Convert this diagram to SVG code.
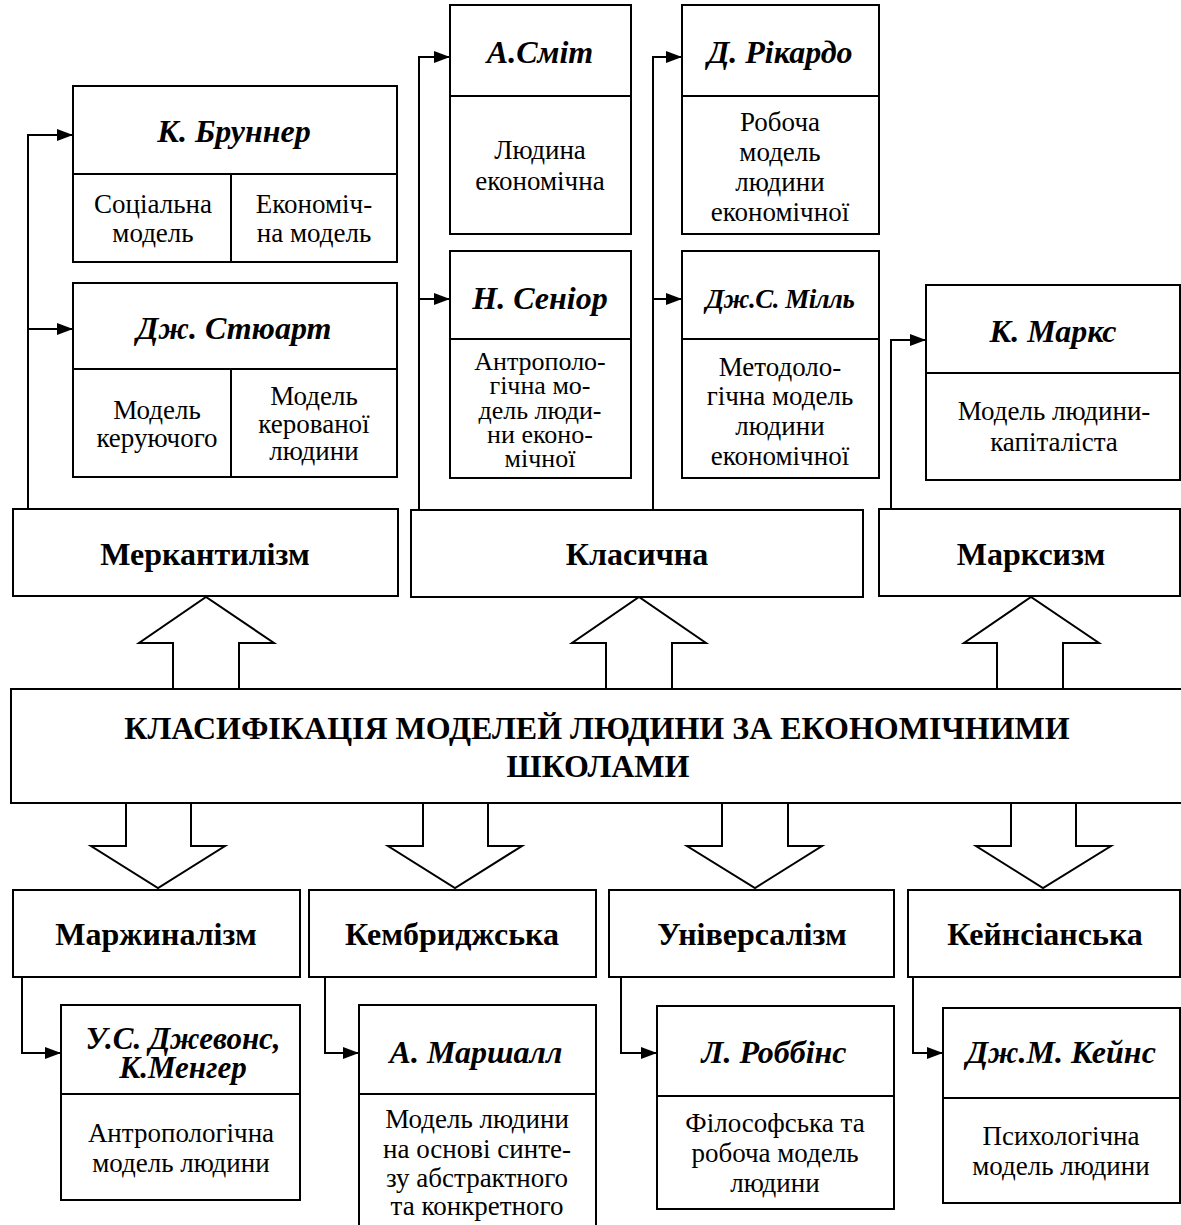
<svg xmlns="http://www.w3.org/2000/svg" width="1181" height="1225" viewBox="0 0 1181 1225">
<style>
  .box { fill: #fff; stroke: #000; stroke-width: 2; }
  .ln { fill: none; stroke: #000; stroke-width: 2; }
  .con { fill: none; stroke: #000; stroke-width: 2; marker-end: url(#ah); }
  .blk { fill: #fff; stroke: #000; stroke-width: 2; stroke-linejoin: miter; }
  text { font-family: "Liberation Serif", "DejaVu Serif", serif; fill: #000; text-anchor: middle; }
  .hdr { font-size: 32px; font-weight: bold; font-style: italic; }
  .hdr2 { font-size: 31px; font-weight: bold; font-style: italic; }
  .hdr3 { font-size: 27px; font-weight: bold; font-style: italic; letter-spacing: -0.5px; }
  .body { font-size: 27px; }
  .tight { font-size: 26px; }
  .cat { font-size: 32px; font-weight: bold; }
  .title { font-size: 32px; font-weight: bold; }
</style>
<defs>
  <marker id="ah" viewBox="0 0 16 12" refX="16" refY="6" markerWidth="16" markerHeight="12" markerUnits="userSpaceOnUse" orient="auto">
    <path d="M0,0 L16,6 L0,12 z" fill="#000"/>
  </marker>
</defs>
<rect width="1181" height="1225" fill="#fff"/>

<g id="connectors">
  <path class="con" d="M28,509 V135 H73"/>
  <path class="con" d="M28,329 H73"/>
  <path class="con" d="M419,510 V57 H450"/>
  <path class="con" d="M419,299 H450"/>
  <path class="con" d="M653,510 V57 H682"/>
  <path class="con" d="M653,299 H682"/>
  <path class="con" d="M891,509 V340 H926"/>
  <path class="con" d="M22,977 V1053 H61"/>
  <path class="con" d="M325,977 V1053 H359"/>
  <path class="con" d="M621,977 V1053 H657"/>
  <path class="con" d="M913,977 V1053 H943"/>
  <path class="blk" d="M173,689 V643 H139 L206,597 L274,643 H239 V689"/>
  <path class="blk" d="M606,689 V643 H572 L639,597 L706,643 H672 V689"/>
  <path class="blk" d="M997,689 V643 H964 L1031,597 L1099,643 H1063 V689"/>
  <path class="blk" d="M126,803 V846 H91 L158,888 L225,846 H191 V803"/>
  <path class="blk" d="M423,803 V846 H388 L455,888 L522,846 H488 V803"/>
  <path class="blk" d="M722,803 V846 H687 L755,888 L822,846 H788 V803"/>
  <path class="blk" d="M1011,803 V846 H976 L1043,888 L1111,846 H1076 V803"/>
</g>

<g id="brunner">
  <rect class="box" x="73" y="86" width="324" height="176"/>
  <line class="ln" x1="73" y1="174" x2="397" y2="174"/>
  <line class="ln" x1="231" y1="174" x2="231" y2="262"/>
  <text class="hdr" x="234" y="142">К. Бруннер</text>
  <text class="body" x="153" y="213">Соціальна</text>
  <text class="body" x="153" y="242">модель</text>
  <text class="body" x="314" y="213">Економіч-</text>
  <text class="body" x="314" y="242">на модель</text>
</g>

<g id="stewart">
  <rect class="box" x="73" y="283" width="324" height="194"/>
  <line class="ln" x1="73" y1="369" x2="397" y2="369"/>
  <line class="ln" x1="231" y1="369" x2="231" y2="477"/>
  <text class="hdr" x="234" y="339">Дж. Стюарт</text>
  <text class="body" x="157" y="419">Модель</text>
  <text class="body" x="157" y="447">керуючого</text>
  <text class="body" x="314" y="405">Модель</text>
  <text class="body" x="314" y="433">керованої</text>
  <text class="body" x="314" y="460">людини</text>
</g>

<g id="smith">
  <rect class="box" x="450" y="5" width="181" height="229"/>
  <line class="ln" x1="450" y1="96" x2="631" y2="96"/>
  <text class="hdr" x="540" y="63">А.Сміт</text>
  <text class="body" x="540" y="159">Людина</text>
  <text class="body" x="540" y="190">економічна</text>
</g>

<g id="ricardo">
  <rect class="box" x="682" y="5" width="197" height="229"/>
  <line class="ln" x1="682" y1="96" x2="879" y2="96"/>
  <text class="hdr" x="780" y="63">Д. Рікардо</text>
  <text class="body" x="780" y="131">Робоча</text>
  <text class="body" x="780" y="161">модель</text>
  <text class="body" x="780" y="191">людини</text>
  <text class="body" x="780" y="221">економічної</text>
</g>

<g id="senior">
  <rect class="box" x="450" y="251" width="181" height="227"/>
  <line class="ln" x1="450" y1="339" x2="631" y2="339"/>
  <text class="hdr" x="540" y="309">Н. Сеніор</text>
  <text class="tight" x="540" y="370">Антрополо-</text>
  <text class="tight" x="540" y="394">гічна мо-</text>
  <text class="tight" x="540" y="419">дель люди-</text>
  <text class="tight" x="540" y="443">ни еконо-</text>
  <text class="tight" x="540" y="467">мічної</text>
</g>

<g id="mill">
  <rect class="box" x="682" y="251" width="197" height="227"/>
  <line class="ln" x1="682" y1="339" x2="879" y2="339"/>
  <text class="hdr3" x="780" y="308">Дж.С. Мілль</text>
  <text class="body" x="780" y="376">Методоло-</text>
  <text class="body" x="780" y="405">гічна модель</text>
  <text class="body" x="780" y="435">людини</text>
  <text class="body" x="780" y="465">економічної</text>
</g>

<g id="marx">
  <rect class="box" x="926" y="285" width="254" height="195"/>
  <line class="ln" x1="926" y1="373" x2="1180" y2="373"/>
  <text class="hdr" x="1053" y="342">К. Маркс</text>
  <text class="body" x="1054" y="420">Модель людини-</text>
  <text class="body" x="1054" y="451">капіталіста</text>
</g>

<g id="mercantilism">
  <rect class="box" x="13" y="509" width="385" height="87"/>
  <text class="cat" x="205" y="565">Меркантилізм</text>
</g>

<g id="classic">
  <rect class="box" x="411" y="510" width="452" height="87"/>
  <text class="cat" x="637" y="565">Класична</text>
</g>

<g id="marxism">
  <rect class="box" x="879" y="509" width="301" height="87"/>
  <text class="cat" x="1031" y="565">Марксизм</text>
</g>

<g id="main">
  <rect class="box" x="11" y="689" width="1185" height="114"/>
  <text class="title" x="597" y="739">КЛАСИФІКАЦІЯ МОДЕЛЕЙ ЛЮДИНИ ЗА ЕКОНОМІЧНИМИ</text>
  <text class="title" x="598" y="777">ШКОЛАМИ</text>
</g>

<g id="marginalism">
  <rect class="box" x="13" y="890" width="287" height="87"/>
  <text class="cat" x="156" y="945">Маржиналізм</text>
</g>

<g id="cambridge">
  <rect class="box" x="309" y="890" width="287" height="87"/>
  <text class="cat" x="452" y="945">Кембриджська</text>
</g>

<g id="universalism">
  <rect class="box" x="609" y="890" width="285" height="87"/>
  <text class="cat" x="752" y="945">Універсалізм</text>
</g>

<g id="keynesian">
  <rect class="box" x="908" y="890" width="272" height="87"/>
  <text class="cat" x="1045" y="945">Кейнсіанська</text>
</g>

<g id="jevons">
  <rect class="box" x="61" y="1005" width="239" height="195"/>
  <line class="ln" x1="61" y1="1094" x2="300" y2="1094"/>
  <text class="hdr2" x="183" y="1049">У.С. Джевонс,</text>
  <text class="hdr2" x="183" y="1078">К.Менгер</text>
  <text class="body" x="181" y="1142">Антропологічна</text>
  <text class="body" x="181" y="1172">модель людини</text>
</g>

<g id="marshall">
  <rect class="box" x="359" y="1005" width="237" height="240"/>
  <line class="ln" x1="359" y1="1094" x2="596" y2="1094"/>
  <text class="hdr" x="476" y="1063">А. Маршалл</text>
  <text class="body" x="477" y="1128">Модель людини</text>
  <text class="body" x="477" y="1158">на основі синте-</text>
  <text class="body" x="477" y="1187">зу абстрактного</text>
  <text class="body" x="477" y="1215">та конкретного</text>
</g>

<g id="robbins">
  <rect class="box" x="657" y="1006" width="237" height="203"/>
  <line class="ln" x1="657" y1="1096" x2="894" y2="1096"/>
  <text class="hdr" x="774" y="1063">Л. Роббінс</text>
  <text class="body" x="775" y="1132">Філософська та</text>
  <text class="body" x="775" y="1162">робоча модель</text>
  <text class="body" x="775" y="1192">людини</text>
</g>

<g id="keynes">
  <rect class="box" x="943" y="1008" width="237" height="195"/>
  <line class="ln" x1="943" y1="1098" x2="1180" y2="1098"/>
  <text class="hdr" x="1061" y="1063">Дж.М. Кейнс</text>
  <text class="body" x="1061" y="1145">Психологічна</text>
  <text class="body" x="1061" y="1175">модель людини</text>
</g>
</svg>
